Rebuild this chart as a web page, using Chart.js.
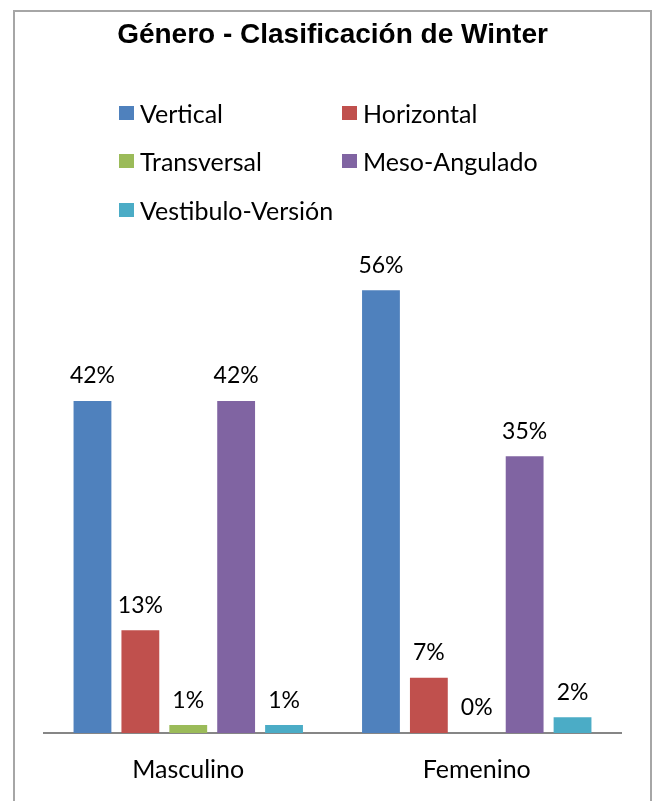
<!DOCTYPE html>
<html>
<head>
<meta charset="utf-8">
<script src="https://cdn.jsdelivr.net/npm/chart.js@4"></script>
<style>
  html,body{margin:0;padding:0;background:#fff;overflow:hidden;}
  #frame{position:absolute;left:13px;top:10px;width:635px;height:800px;
    border:2px solid #a6a6a6;border-bottom:none;}
  #wrap{position:absolute;left:0;top:0;width:654px;height:801px;}
  #legend{position:absolute;left:0;top:0;width:654px;height:240px;
    font-family:Lato,'Open Sans',sans-serif;font-size:25px;color:#000;}
  .item{position:absolute;display:flex;align-items:center;height:30px;white-space:nowrap;}
  .box{width:15px;height:14px;margin-right:6px;}
</style>
</head>
<body>
<div id="frame"></div>
<div id="wrap"><canvas id="c"></canvas></div>
<div id="legend"></div>
<script>
const categories = ['Masculino', 'Femenino'];
const seriesNames = ['Vertical', 'Horizontal', 'Transversal', 'Meso-Angulado', 'Vestibulo-Versión'];
const vertical    = [42, 56];
const horizontal  = [13, 7];
const transversal = [1, 0];
const mesoAngulado = [42, 35];
const vestibulo   = [1, 2];
const colors = ['#4F81BD', '#C0504D', '#9BBB59', '#8064A2', '#4BACC6'];

const series = [vertical, horizontal, transversal, mesoAngulado, vestibulo];

// value labels above each bar
const barLabels = {
  id: 'barLabels',
  afterDatasetsDraw(chart) {
    const ctx = chart.ctx;
    ctx.save();
    ctx.font = '23px Lato, sans-serif';
    ctx.fillStyle = '#000';
    ctx.textAlign = 'center';
    ctx.textBaseline = 'middle';
    chart.data.datasets.forEach((ds, i) => {
      chart.getDatasetMeta(i).data.forEach((bar, j) => {
        ctx.fillText(ds.data[j] + '%', bar.x, bar.y - 25);
      });
    });
    ctx.restore();
  }
};

const chart = new Chart(document.getElementById('c'), {
  type: 'bar',
  data: {
    labels: categories,
    datasets: series.map((d, i) => ({
      label: seriesNames[i],
      data: d,
      backgroundColor: colors[i],
      borderWidth: 0,
      categoryPercentage: 0.83,
      barPercentage: 0.79
    }))
  },
  options: {
    responsive: true, maintainAspectRatio: false, animation: false,
    layout: {padding: {left: 44, right: 33, top: 0, bottom: -6}},
    plugins: {
      legend: {display: false},
      tooltip: {enabled: false},
      title: {
        display: true,
        text: 'Género - Clasificación de Winter',
        color: '#000',
        font: {family: "'Liberation Sans',Arial,sans-serif", size: 28, weight: 'bold'},
        padding: {top: 18, bottom: 207}
      }
    },
    scales: {
      x: {
        grid: {display: false, drawTicks: false},
        border: {display: true, color: '#868686', width: 2},
        ticks: {color: '#000', padding: 22, font: {family: 'Lato, sans-serif', size: 25}}
      },
      y: {
        display: false,
        min: 0, max: 60
      }
    }
  },
  plugins: [barLabels]
});

// two-column legend
const legendPos = [[119, 113], [342, 113], [119, 161], [342, 161], [119, 210]];
const legend = document.getElementById('legend');
seriesNames.forEach((name, i) => {
  const el = document.createElement('div');
  el.className = 'item';
  el.style.left = legendPos[i][0] + 'px';
  el.style.top = (legendPos[i][1] - 15) + 'px';
  el.innerHTML = '<span class="box" style="background:' + colors[i] + '"></span><span>' + name + '</span>';
  legend.appendChild(el);
});
</script>
</body>
</html>
